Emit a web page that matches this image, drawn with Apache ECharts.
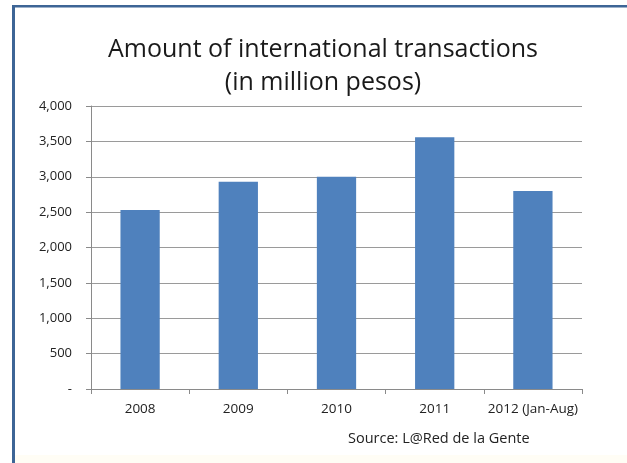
<!DOCTYPE html>
<html><head><meta charset="utf-8">
<script src="https://cdn.jsdelivr.net/npm/echarts@6/dist/echarts.min.js"></script>
<style>html,body{margin:0;padding:0;background:#fff}#c{width:627px;height:463px}</style>
</head><body><div id="c"></div>
<script>
const categories = ['2008', '2009', '2010', '2011', '2012 (Jan-Aug)'];
const values = [2530, 2930, 3000, 3560, 2800];
const titleLines = ['Amount of international transactions', '(in million pesos)'];
const sourceText = 'Source: L@Red de la Gente';

const chart = echarts.init(document.getElementById('c'), null, {renderer: 'canvas'});
const font = '"Open Sans", "DejaVu Sans", sans-serif';
chart.setOption({
  backgroundColor: '#ffffff',
  animation: false,
  title: {
    text: titleLines.join('\n'),
    left: 318, top: 28, textAlign: 'center',
    textStyle: {fontFamily: font, fontSize: 25, fontWeight: 'normal', color: '#1a1a1a', lineHeight: 33}
  },
  grid: {left: 91, right: 45, top: 106, bottom: 74, containLabel: false},
  xAxis: {
    type: 'category', data: categories,
    axisLine: {lineStyle: {color: '#8a8a8a', width: 1}},
    axisTick: {show: true, alignWithLabel: false, length: 5, lineStyle: {color: '#8a8a8a'}},
    axisLabel: {fontFamily: font, fontSize: 13.5, color: '#222', margin: 13, interval: 0}
  },
  yAxis: {
    type: 'value', min: 0, max: 4000, interval: 500,
    axisLine: {show: true, lineStyle: {color: '#8a8a8a'}},
    axisTick: {show: true, length: 5, lineStyle: {color: '#8a8a8a'}},
    splitLine: {lineStyle: {color: '#9a9a9a', width: 1}},
    axisLabel: {
      fontFamily: font, fontSize: 13, color: '#222', margin: 19,
      formatter: v => v === 0 ? '-' : v.toLocaleString('en-US')
    }
  },
  series: [{
    type: 'bar', data: values, barWidth: '40%',
    itemStyle: {color: '#4f81bd'}
  }],
  graphic: [
    {type: 'rect', shape: {x: 12, y: 5, width: 615, height: 2.5}, style: {fill: '#3d6596'}},
    {type: 'rect', shape: {x: 12, y: 5, width: 3, height: 458}, style: {fill: '#3d6596'}},
    {type: 'rect', shape: {x: 15, y: 455, width: 612, height: 8}, style: {fill: '#fffdf5'}},
    {type: 'text', left: 348, top: 431, style: {text: sourceText, font: '14.5px ' + font, fill: '#222'}}
  ]
});
</script></body></html>
